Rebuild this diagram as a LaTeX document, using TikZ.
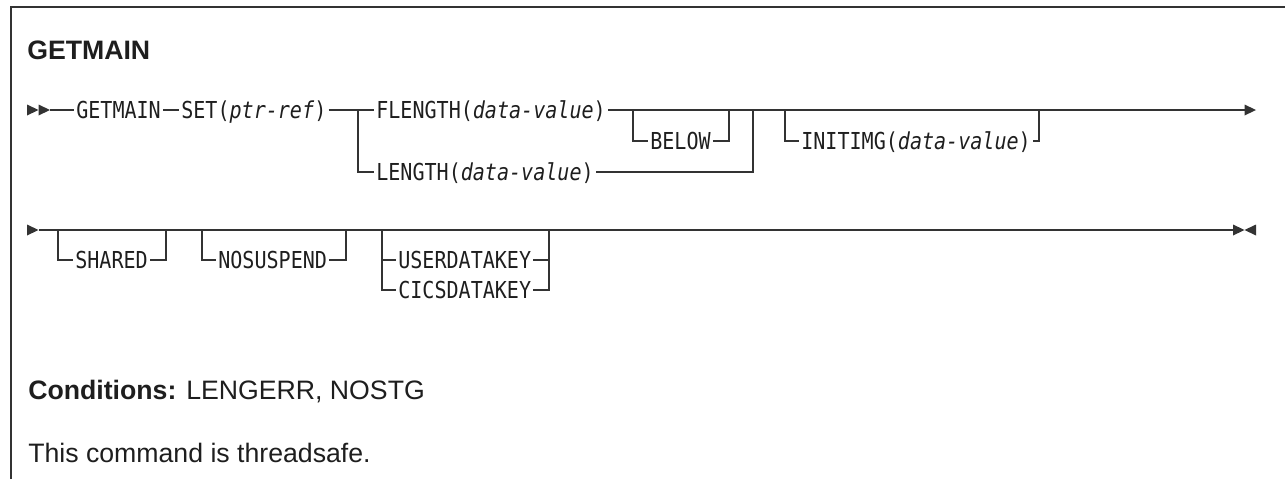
\documentclass[tikz,border=0pt]{standalone}
\usepackage{fontspec}
\setmainfont{Liberation Sans}
\newfontfamily\synfont[FakeStretch=0.86]{DejaVu Sans Mono}
\usepackage{tikz}
\usetikzlibrary{positioning}
\usepackage{xcolor}
\definecolor{ink}{HTML}{1E1E1E}
\definecolor{rule}{HTML}{333333}

% filled triangles of the syntax line
\newcommand{\tipR}[1]{\fill[rule, shift={(#1)}] (0,-5.5) -- (11.5,0) -- (0,5.5) -- cycle;}
\newcommand{\tipL}[1]{\fill[rule, shift={(#1)}] (11.5,-5.5) -- (0,0) -- (11.5,5.5) -- cycle;}

\begin{document}
\begin{tikzpicture}[
    x=0.75pt, y=-0.75pt,
    kw/.style={font={\synfont\fontsize{17.5pt}{20pt}\selectfont}, text=ink, inner sep=1.5pt,
               text height=13.4pt, text depth=0.6pt, anchor=west},
    head/.style={font={\fontsize{20pt}{24pt}\selectfont\bfseries}, text=ink, inner sep=0pt, anchor=base west},
    note/.style={font={\fontsize{20pt}{24pt}\selectfont}, text=ink, inner sep=0pt, anchor=base west},
    rail/.style={draw=rule, line width=0.8pt}
]
\useasboundingbox (0,0) rectangle (1285,479);

% Frame
\draw[rail] (11,479) -- (11,7) -- (1285,7);

% Title
\node[head] (title) at (27,59.5) {GETMAIN};

% Row 1: GETMAIN SET FLENGTH/LENGTH BELOW INITIMG
\coordinate (r1a) at (27,110);
\coordinate (r1b) at (38.5,110);
\coordinate (r1t) at (50,110);
\node[kw] (getmain) at (74,110) {GETMAIN};
\node[kw] (setref) at (179,110) {SET(\textit{ptr-ref})};
\coordinate (fork) at (358,110);
\node[kw] (flength) at (374,110) {FLENGTH(\textit{data-value})};
\coordinate (bel1) at (633,110);
\coordinate (bel2) at (729,110);
\node[kw] (below) at (648,141) {BELOW};
\node[kw] (length) at (374,172) {LENGTH(\textit{data-value})};
\coordinate (join) at (753,110);
\coordinate (ini1) at (785,110);
\coordinate (ini2) at (1039,110);
\node[kw] (initimg) at (799,141) {INITIMG(\textit{data-value})};
\coordinate (r1e) at (1244.5,110);

\draw[rail] (r1t) -- (getmain.west);
\draw[rail] (getmain.east) -- (setref.west);
\draw[rail] (setref.east) -- (fork) -- (flength.west);
\draw[rail] (flength.east) -- (join) -- (r1e);
\draw[rail] (bel1) |- (below.west);
\draw[rail] (below.east) -| (bel2);
\draw[rail] (fork) |- (length.west);
\draw[rail] (length.east) -| (join);
\draw[rail] (ini1) |- (initimg.west);
\draw[rail] (initimg.east) -| (ini2);
\tipR{r1a}
\tipR{r1b}
\tipR{r1e}

% Row 2: SHARED NOSUSPEND USERDATAKEY/CICSDATAKEY
\coordinate (r2a) at (27,230);
\coordinate (r2t) at (39,230);
\coordinate (sha1) at (58,230);
\coordinate (sha2) at (166,230);
\node[kw] (shared) at (73,260) {SHARED};
\coordinate (nos1) at (202,230);
\coordinate (nos2) at (346,230);
\node[kw] (nosusp) at (216,260) {NOSUSPEND};
\coordinate (key1) at (382,230);
\coordinate (key2) at (549,230);
\node[kw] (userkey) at (396,260) {USERDATAKEY};
\node[kw] (cicskey) at (396,290) {CICSDATAKEY};
\coordinate (mark1) at (555,229.6);
\coordinate (mark2) at (578,229.6);
\coordinate (r2e) at (1233,230);
\coordinate (r2f) at (1244.5,230);

\draw[rail] (r2t) -- (r2e);
\draw[rail] (sha1) |- (shared.west);
\draw[rail] (shared.east) -| (sha2);
\draw[rail] (nos1) |- (nosusp.west);
\draw[rail] (nosusp.east) -| (nos2);
\draw[rail] (key1) |- (cicskey.west);
\draw[rail] (key1 |- userkey.west) -- (userkey.west);
\draw[rail] (userkey.east) -- (key2 |- userkey.east);
\draw[rail] (cicskey.east) -| (key2);
\draw[draw=rule, line width=1.5pt] (mark1) -- (mark2);
\tipR{r2a}
\tipR{r2e}
\tipL{r2f}

% Conditions and note
\node[note] (cond) at (28,399.5) {\textbf{Conditions:} LENGERR, NOSTG};
\node[note] (safe) at (28,462.5) {This command is threadsafe.};

\end{tikzpicture}
\end{document}
